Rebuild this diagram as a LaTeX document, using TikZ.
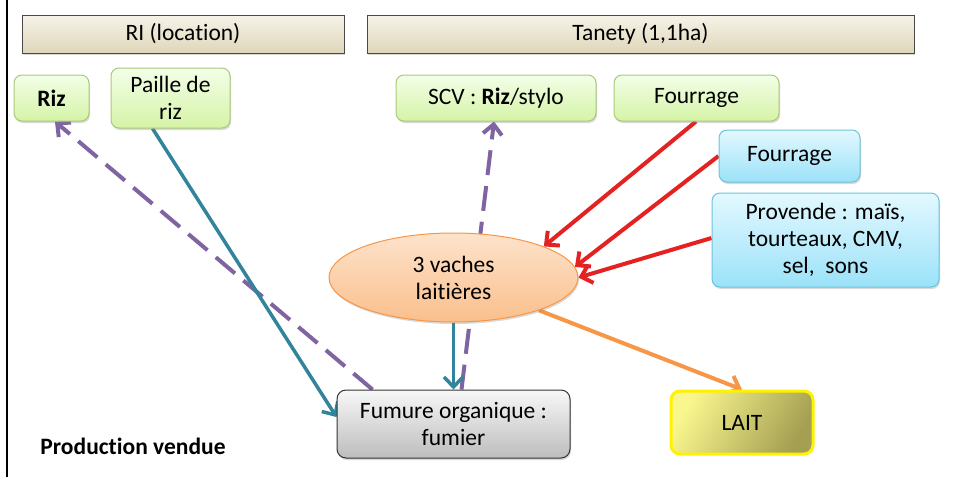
\documentclass[tikz,border=0pt]{standalone}
\usepackage{fontspec}
\setmainfont{Carlito}[Ligatures=NoCommon]
\usetikzlibrary{arrows.meta,shapes.geometric,shadows,backgrounds}
\definecolor{purp}{HTML}{8064A2}
\definecolor{tealc}{HTML}{31849B}
\definecolor{redc}{HTML}{E52222}
\definecolor{orng}{HTML}{F79646}
\definecolor{gtop}{HTML}{F3FFE8}
\definecolor{gbot}{HTML}{D5F3A6}
\definecolor{gbrd}{HTML}{A9C97A}
\definecolor{btop}{HTML}{E3F8FF}
\definecolor{bbot}{HTML}{9BE2F8}
\definecolor{bbrd}{HTML}{6CC3DC}
\definecolor{htop}{HTML}{F6F3E8}
\definecolor{hbot}{HTML}{DFD6BA}
\definecolor{hbrd}{HTML}{4A4A4A}
\definecolor{etop}{HTML}{FDE3CB}
\definecolor{ebot}{HTML}{FABF8C}
\definecolor{gytop}{HTML}{F7F7F7}
\definecolor{gybot}{HTML}{BDBDBD}
\definecolor{ylL}{HTML}{F9F68E}
\definecolor{ylR}{HTML}{A49F52}
\tikzset{
  x=1pt, y=-1pt,
  every node/.style={font=\fontsize{23.5}{27}\selectfont, inner sep=0pt, align=center},
  shad/.style={drop shadow={shadow xshift=1pt, shadow yshift=-2pt, opacity=0.3}},
  hdr/.style={draw=hbrd, line width=0.8pt, top color=htop, bottom color=hbot, shad},
  gbox/.style={draw=gbrd, line width=1pt, rounded corners=8pt, top color=gtop, bottom color=gbot, shad},
  bbox/.style={draw=bbrd, line width=1pt, rounded corners=8pt, top color=btop, bottom color=bbot, shad},
  barb/.style={-{Straight Barb[length=10pt,width=19pt]}},
  pdash/.style={barb, draw=purp, line width=4pt, dash pattern=on 25pt off 11pt},
  tealarr/.style={barb, draw=tealc, line width=3.5pt},
  redarr/.style={barb, draw=redc, line width=4pt},
  orarr/.style={barb, draw=orng, line width=4pt},
}
\begin{document}
\begin{tikzpicture}
\useasboundingbox (0,0) rectangle (953,477);
\draw[line width=2.5pt] (7,0) -- (7,477);

\node[hdr, minimum width=322pt, minimum height=38pt] (ri) at (183,34) {RI (location)};
\node[hdr, minimum width=547pt, minimum height=38pt] (tan) at (640.5,34) {Tanety (1,1ha)};

\node[gbox, minimum width=75pt, minimum height=46pt] (riz) at (51.5,98) {\textbf{Riz}};
\node[gbox, minimum width=119pt, minimum height=60pt] (pail) at (170.5,98) {Paille de\\riz};
\node[gbox, minimum width=200pt, minimum height=46pt] (scv) at (496,98) {SCV : \textbf{Riz}/stylo};
\node[gbox, minimum width=165pt, minimum height=46pt] (fg) at (696.5,98) {Fourrage};

\node[bbox, minimum width=141pt, minimum height=52pt] (fb) at (789.5,156) {Fourrage};
\node[bbox, minimum width=227pt, minimum height=94pt] (prov) at (825.5,240) {Provende : maïs,\\tourteaux, CMV,\\sel,~ sons};

\node[ellipse, draw=orng, line width=1pt, top color=etop, bottom color=ebot, minimum width=249pt, minimum height=89pt, shad] (ell) at (453.5,277.5) {3 vaches\\laitières};

\node[draw=black!80, line width=1pt, rounded corners=9pt, top color=gytop, bottom color=gybot, minimum width=233pt, minimum height=68pt, shad] (fum) at (453.5,424) {Fumure organique :\\fumier};

\node[draw=yellow, line width=3pt, rounded corners=9pt, left color=ylL, right color=ylR, shading angle=60, minimum width=142pt, minimum height=63pt] (lait) at (742,422.5) {LAIT};

\node[font=\fontsize{23.5}{27}\selectfont\bfseries] (prod) at (133,446) {Production vendue};

\begin{scope}[on background layer]
\draw[pdash] ([xshift=-81pt]fum.north) -- ([xshift=3.5pt]riz.south);
\draw[pdash] ([xshift=8pt]fum.north) -- ([xshift=-2pt]scv.south);
\draw[tealarr] ([xshift=-18pt]pail.south) -- ([yshift=7pt]fum.west);
\draw[tealarr] (ell.south) -- (fum.north);
\draw[redarr] ([xshift=-0.5pt]fg.south) -- (ell.19);
\draw[redarr] (fb.west) -- (ell.5);
\draw[redarr] ([yshift=2pt]prov.west) -- (ell.east);
\draw[orarr] (ell.-21) -- (lait.north);
\end{scope}
\end{tikzpicture}
\end{document}
